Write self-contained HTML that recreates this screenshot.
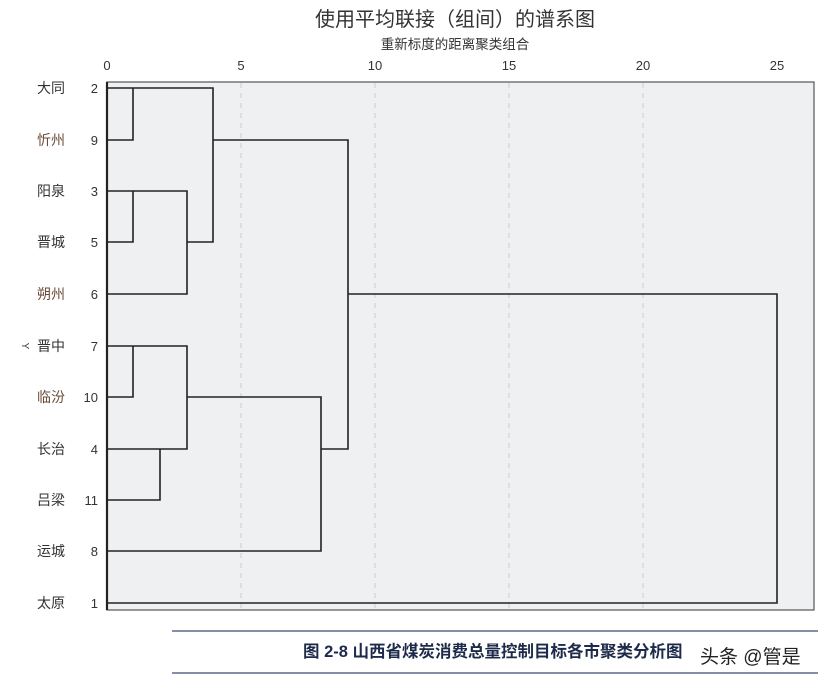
<!DOCTYPE html>
<html><head><meta charset="utf-8"><style>
body{margin:0;background:#fff;}
svg text{font-family:"Liberation Sans","Noto Sans CJK SC",sans-serif;}
</style></head><body>
<svg width="830" height="685" viewBox="0 0 830 685" xmlns="http://www.w3.org/2000/svg">
<rect x="0" y="0" width="830" height="685" fill="#fff"/>
<text x="455" y="26" font-size="20" text-anchor="middle" fill="#333">使用平均联接（组间）的谱系图</text>
<text x="455" y="49" font-size="13.5" text-anchor="middle" fill="#333">重新标度的距离聚类组合</text>
<g font-size="13" fill="#333" text-anchor="middle">
<text x="107" y="70">0</text><text x="241" y="70">5</text><text x="375" y="70">10</text>
<text x="509" y="70">15</text><text x="643" y="70">20</text><text x="777" y="70">25</text>
</g>
<rect x="107" y="82" width="707" height="528" fill="#eff0f2" stroke="#555" stroke-width="1.2"/>
<g stroke="#ccc" stroke-dasharray="5,5" stroke-width="1">
<line x1="241" y1="83" x2="241" y2="609"/><line x1="375" y1="83" x2="375" y2="609"/>
<line x1="509" y1="83" x2="509" y2="609"/><line x1="643" y1="83" x2="643" y2="609"/>
</g>
<g stroke="#222" stroke-width="1.6" fill="none">
<path d="M107 88H213V242H187"/>
<path d="M107 140H133V88"/>
<path d="M213 140H348V449H321"/>
<path d="M107 191H187V294H107"/>
<path d="M133 191V242H107"/>
<path d="M348 294H777V603H107"/>
<path d="M107 346H187V449H107"/>
<path d="M133 346V397H107"/>
<path d="M160 449V500H107"/>
<path d="M187 397H321V551H107"/>
<line x1="107" y1="82" x2="107" y2="610" stroke-width="2.2"/>
</g>
<g font-size="14" fill="#333">
<text x="37" y="93">大同</text><text x="37" y="145" fill="#6b4a3a">忻州</text>
<text x="37" y="196">阳泉</text><text x="37" y="247">晋城</text>
<text x="37" y="299" fill="#6b4a3a">朔州</text><text x="37" y="351">晋中</text>
<text x="37" y="402" fill="#6b4a3a">临汾</text><text x="37" y="454">长治</text>
<text x="37" y="505">吕梁</text><text x="37" y="556">运城</text>
<text x="37" y="608">太原</text>
</g>
<g font-size="13" fill="#333" text-anchor="end">
<text x="98" y="93">2</text><text x="98" y="145">9</text><text x="98" y="196">3</text>
<text x="98" y="247">5</text><text x="98" y="299">6</text><text x="98" y="351">7</text>
<text x="98" y="402">10</text><text x="98" y="454">4</text><text x="98" y="505">11</text>
<text x="98" y="556">8</text><text x="98" y="608">1</text>
</g>
<text x="22" y="346" font-size="10" fill="#333" transform="rotate(90 22 346)" text-anchor="middle">Y</text>
<line x1="172" y1="631" x2="818" y2="631" stroke="#5a6a8a" stroke-width="1.5"/>
<line x1="172" y1="673" x2="818" y2="673" stroke="#5a6a8a" stroke-width="1.5"/>
<text x="303" y="657" font-size="16.5" font-weight="bold" fill="#1d2a4a">图 2-8  山西省煤炭消费总量控制目标各市聚类分析图</text>
<text x="700" y="663" font-size="19" fill="#222">头条 @管是</text>
</svg>
</body></html>
